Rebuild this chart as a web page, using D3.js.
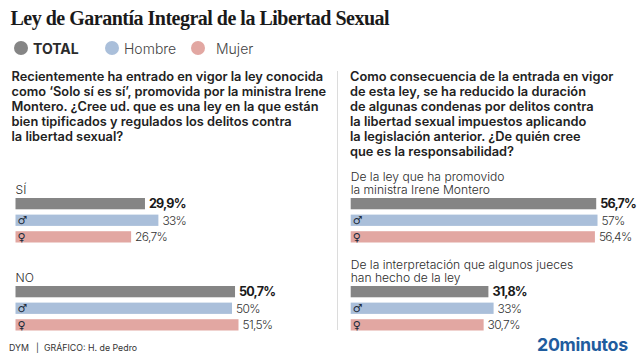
<!DOCTYPE html>
<html>
<head>
<meta charset="utf-8">
<script src="https://cdn.jsdelivr.net/npm/d3@7"></script>
<style>
html, body { margin: 0; padding: 0; background: #fff; }
text { font-family: Inter, sans-serif; fill: #2b2b2b; }
.title { font-family: "Liberation Serif", serif; font-weight: 700; font-size: 20px; fill: #1a1a1a; letter-spacing: -.5px; }
.question { font-size: 12.8px; font-weight: 600; fill: #222; }
.cat { font-size: 12.1px; fill: #2b2b2b; font-weight: 300; }
.val { font-size: 12px; fill: #333; font-weight: 300; letter-spacing: -.7px; }
.val.total { font-weight: 700; fill: #1a1a1a; font-size: 12.6px; letter-spacing: -.8px; }
.sym { font-family: "DejaVu Sans", sans-serif; font-size: 11px; fill: #1c2b3a; font-weight: 700; }
.foot { font-size: 8.8px; fill: #333; }
</style>
</head>
<body>
<svg id="chart" width="640" height="360"></svg>
<script>
var title = "Ley de Garantía Integral de la Libertad Sexual";
var series = ["TOTAL", "Hombre", "Mujer"];
var series_colors = ["#858585", "#aabfda", "#e2a7a2"];
var symbols = [null, "♂", "♀"];

var question_left = [
  "Recientemente ha entrado en vigor la ley conocida",
  "como ‘Solo sí es sí’, promovida por la ministra Irene",
  "Montero. ¿Cree ud. que es una ley en la que están",
  "bien tipificados y regulados los delitos contra",
  "la libertad sexual?"
];
var question_right = [
  "Como consecuencia de la entrada en vigor",
  "de esta ley, se ha reducido la duración",
  "de algunas condenas por delitos contra",
  "la libertad sexual impuestos aplicando",
  "la legislación anterior. ¿De quién cree",
  "que es la responsabilidad?"
];

var cats_left = [["SÍ"], ["NO"]];
var values_left = [[29.9, 33, 26.7], [50.7, 50, 51.5]];
var cats_right = [
  ["De la ley que ha promovido", "la ministra Irene Montero"],
  ["De la interpretación que algunos jueces", "han hecho de la ley"]
];
var values_right = [[56.7, 57, 56.4], [31.8, 33, 30.7]];

var chart = d3.select("#chart");
var x = d3.scaleLinear().domain([0, 100]).range([0, 433]);
var y_inner = d3.scaleBand().domain(d3.range(3)).range([0, 44.5]).paddingInner(0.32);
var fmt = function (v) { return String(v).replace(".", ",") + "%"; };

chart.append("text").attr("class", "title").attr("x", 10.5).attr("y", 25).text(title);

// legend
var legend_x = [21, 112, 198];
var legend_text_x = [33, 124, 216];
series.forEach(function (s, i) {
  chart.append("circle").attr("cx", legend_x[i]).attr("cy", 48).attr("r", 7).attr("fill", series_colors[i]);
  chart.append("text").attr("x", legend_text_x[i]).attr("y", 53.5)
    .style("font-size", "14px")
    .style("font-weight", i == 0 ? 700 : 300)
    .style("fill", i == 0 ? "#2b2b2b" : "#444")
    .text(s);
});

// divider between the two questions
chart.append("line").attr("x1", 337.5).attr("x2", 337.5).attr("y1", 71).attr("y2", 330)
  .attr("stroke", "#dcdcdc").attr("stroke-width", 1);

function drawQuestion(lines, left) {
  chart.append("g").selectAll("text").data(lines).join("text")
    .attr("class", "question")
    .attr("x", left)
    .attr("y", function (d, i) { return 81 + i * 15; })
    .text(function (d) { return d; });
}

function drawGroup(label, values, left, top) {
  var g = chart.append("g").attr("transform", "translate(" + left + "," + top + ")");
  // one text with tspans, the lines sit closer than the font's line box
  g.append("text").attr("class", "cat").selectAll("tspan").data(label).join("tspan")
    .attr("x", 0)
    .attr("y", function (d, i) { return -4 - (label.length - 1 - i) * 13.4; })
    .text(function (d) { return d; });
  var rows = g.selectAll("g.row").data(values).join("g").attr("class", "row")
    .attr("transform", function (d, i) { return "translate(0," + y_inner(i) + ")"; });
  rows.append("rect")
    .attr("width", function (d) { return x(d); })
    .attr("height", y_inner.bandwidth())
    .attr("fill", function (d, i) { return series_colors[i]; });
  rows.append("text")
    .attr("class", function (d, i) { return i == 0 ? "val total" : "val"; })
    .attr("x", function (d) { return x(d) + 4; })
    .attr("y", 10)
    .text(fmt);
  rows.append("text")
    .attr("class", "sym").attr("x", 2).attr("y", 9.5)
    .text(function (d, i) { return symbols[i]; });
}

drawQuestion(question_left, 11.5);
drawQuestion(question_right, 350);

var tops = [198, 286];
cats_left.forEach(function (c, i) { drawGroup(c, values_left[i], 15.5, tops[i]); });
cats_right.forEach(function (c, i) { drawGroup(c, values_right[i], 350.7, tops[i]); });

chart.append("text").attr("class", "foot").attr("x", 9).attr("y", 351).text("DYM");
chart.append("text").attr("class", "foot").attr("x", 36).attr("y", 351).text("|");
chart.append("text").attr("class", "foot").attr("x", 44).attr("y", 351).text("GRÁFICO: H. de Pedro");

chart.append("text").attr("x", 537).attr("y", 350.5)
  .style("font-size", "17.8px").style("font-weight", 700).style("fill", "#1f5c9e")
  .style("letter-spacing", "-.3px").text("20minutos");
</script>
</body>
</html>
